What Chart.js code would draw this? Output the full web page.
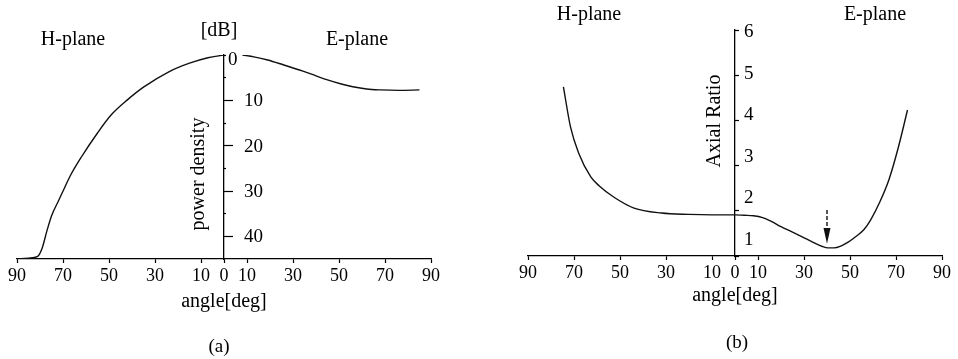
<!DOCTYPE html>
<html>
<head>
<meta charset="utf-8">
<script src="https://cdn.jsdelivr.net/npm/chart.js@4.4.1/dist/chart.umd.min.js"></script>
<style>
  html, body { margin: 0; padding: 0; background: #fff; }
  #wrap { position: relative; width: 958px; height: 359px; }
  .pane { position: absolute; top: 0; width: 479px; height: 359px; }
  #paneA { left: 0; }
  #paneB { left: 479px; }
</style>
</head>
<body>
<div id="wrap">
  <div class="pane" id="paneA"><canvas id="chartA" width="479" height="359"></canvas></div>
  <div class="pane" id="paneB"><canvas id="chartB" width="479" height="359"></canvas></div>
</div>
<script>
// angle ticks shared by both panels; H-plane side is drawn as negative angles
const angleTicks = [-90, -70, -50, -30, -10, 0, 10, 30, 50, 70, 90];

// (a) power density [dB] below peak
const hAngles = [-90, -85, -81, -79, -77, -75, -72, -69.5, -67, -62, -55, -49, -42, -35, -24, -15, -7, 0];
const hPower  = [45, 44.8, 44.4, 42.5, 38.8, 35.5, 32.2, 29.5, 26.8, 22.5, 17.2, 13.2, 9.9, 7.1, 3.7, 1.8, 0.6, 0];
const eAngles = [8, 13, 19, 26, 34, 40, 45, 51, 56, 62, 68, 76, 85];
const ePower  = [0, 0.4, 1.1, 2.2, 3.5, 4.6, 5.5, 6.4, 7.0, 7.5, 7.7, 7.8, 7.7];
const dbTicks  = [0, 5, 10, 15, 20, 25, 30, 35, 40];
const dbLabels = [0, 10, 20, 30, 40];

// (b) axial ratio
const arAngles = [-74.6, -71.5, -68, -62.7, -59, -52.6, -43.9, -32, -20, -10, 0, 4, 8, 12, 16, 20, 25, 29, 34, 38, 40.5, 43, 46, 49, 52, 56, 59, 63, 67, 71, 75];
const arValues = [4.74, 3.85, 3.28, 2.75, 2.55, 2.3, 2.06, 1.95, 1.92, 1.91, 1.91, 1.9, 1.89, 1.85, 1.76, 1.65, 1.53, 1.43, 1.3, 1.21, 1.18, 1.18, 1.22, 1.3, 1.41, 1.58, 1.8, 2.2, 2.7, 3.4, 4.23];
const arTicks = [1, 2, 3, 4, 5, 6];
// arrow marking the minimum
const arrowAngle = 40;
const arrowFrom = 2.02, arrowHead = 1.62, arrowTo = 1.27;

const SERIF = '"Liberation Serif", "DejaVu Serif", serif';
const INK = '#111';

function pts(xs, ys){ return xs.map((x, i) => ({x: x, y: ys[i]})); }

function curve(data){
  return {
    data: data, borderColor: INK, borderWidth: 1.4, pointRadius: 0,
    fill: false, cubicInterpolationMode: 'monotone'
  };
}

function angleAxis(h){
  return {
    type: 'linear', position: 'bottom', min: -90, max: 90,
    afterBuildTicks: s => { s.ticks = angleTicks.map(v => ({value: v})); },
    afterFit: s => { s.height = h; },
    ticks: { autoSkip: false, maxRotation: 0, padding: 2, color: '#000',
             font: {family: SERIF, size: 18}, callback: v => Math.abs(v) },
    grid: { drawOnChartArea: false, drawTicks: true, tickLength: 4, tickColor: '#000', tickWidth: 1.2 },
    border: { color: '#000', width: 1.3 },
    title: { display: true, text: 'angle[deg]', color: '#000',
             font: {family: SERIF, size: 20}, padding: {top: 0, bottom: 0} }
  };
}

// free text on the canvas
function drawText(ctx, t, x, y, size, rot){
  ctx.save();
  ctx.font = size + 'px ' + SERIF;
  ctx.fillStyle = '#000';
  ctx.textAlign = 'center';
  ctx.textBaseline = 'middle';
  ctx.translate(x, y);
  if(rot) ctx.rotate(rot);
  ctx.fillText(t, 0, 0);
  ctx.restore();
}

const panelA = {
  id: 'panelA',
  afterDraw(chart){
    const ctx = chart.ctx, xs = chart.scales.x, ys = chart.scales.y;
    const x0 = xs.getPixelForValue(0);
    ctx.save();
    ctx.font = '19px ' + SERIF;
    ctx.fillStyle = '#000';
    ctx.textAlign = 'left';
    ctx.textBaseline = 'middle';
    dbLabels.forEach(v => {
      // 0 sits right against the axis, the others after the long tick
      const dx = v === 0 ? 4 : 20, dy = v === 0 ? 5 : 1;
      ctx.fillText(String(v), x0 + dx, ys.getPixelForValue(v) + dy);
    });
    ctx.restore();
    drawText(ctx, 'H-plane', 73, 40, 20);
    drawText(ctx, 'E-plane', 357, 40, 20);
    drawText(ctx, '[dB]', 219, 31, 20);
    drawText(ctx, 'power density', 199, 174, 20, -Math.PI / 2);
    drawText(ctx, '(a)', 219, 347, 19);
  }
};

const panelB = {
  id: 'panelB',
  afterDraw(chart){
    const ctx = chart.ctx, xs = chart.scales.x, ys = chart.scales.y;
    const x0 = xs.getPixelForValue(0);
    ctx.save();
    ctx.font = '19px ' + SERIF;
    ctx.fillStyle = '#000';
    ctx.textAlign = 'left';
    ctx.textBaseline = 'middle';
    // printed labels creep upward towards the bottom of the axis
    arTicks.forEach(v => ctx.fillText(String(v), x0 + 9, ys.getPixelForValue(v) + 2 - (6 - v) * 3.6));

    // dashed arrow pointing at the minimum
    const ax = xs.getPixelForValue(arrowAngle);
    const yTop = ys.getPixelForValue(arrowFrom), yHead = ys.getPixelForValue(arrowHead), yTip = ys.getPixelForValue(arrowTo);
    ctx.strokeStyle = INK;
    ctx.lineWidth = 1.4;
    ctx.setLineDash([4, 2]);
    ctx.beginPath(); ctx.moveTo(ax, yTop); ctx.lineTo(ax, yHead); ctx.stroke();
    ctx.setLineDash([]);
    ctx.fillStyle = INK;
    ctx.beginPath(); ctx.moveTo(ax - 3.5, yHead); ctx.lineTo(ax + 3.5, yHead); ctx.lineTo(ax, yTip); ctx.closePath(); ctx.fill();
    ctx.restore();

    drawText(ctx, 'H-plane', 110, 15, 20);
    drawText(ctx, 'E-plane', 396, 15, 20);
    drawText(ctx, 'Axial Ratio', 236, 121, 20, -Math.PI / 2);
    drawText(ctx, '(b)', 258, 343, 19);
  }
};

const common = {
  responsive: false, animation: false,
  plugins: { legend: { display: false }, tooltip: { enabled: false } }
};

new Chart(document.getElementById('chartA'), {
  type: 'line',
  data: { datasets: [curve(pts(hAngles, hPower)), curve(pts(eAngles, ePower))] },
  options: Object.assign({}, common, {
    layout: { padding: { left: 17, top: 55, right: 48, bottom: 45 } },
    scales: {
      x: angleAxis(55),
      y: {
        type: 'linear', reverse: true, min: 0, max: 45, position: { x: 0 },
        afterBuildTicks: s => { s.ticks = dbTicks.map(v => ({value: v})); },
        afterFit: s => { s.width = 0; },
        ticks: { display: false },
        grid: {
          drawOnChartArea: false, drawTicks: true, tickLength: -10, tickColor: '#000', tickWidth: 1.2,
          // short marks at 0 and every 5, long ones at every 10
          tickBorderDash: c => (c.tick && c.tick.value > 0 && c.tick.value % 10 === 0) ? [] : [3, 100]
        },
        border: { color: '#000', width: 1.3 }
      }
    }
  }),
  plugins: [panelA]
});

new Chart(document.getElementById('chartB'), {
  type: 'line',
  data: { datasets: [curve(pts(arAngles, arValues))] },
  options: Object.assign({}, common, {
    layout: { padding: { left: 49, top: 30, right: 16, bottom: 51 } },
    scales: {
      x: angleAxis(52),
      y: {
        type: 'linear', min: 1, max: 6, position: { x: 0 },
        afterBuildTicks: s => { s.ticks = arTicks.map(v => ({value: v})); },
        afterFit: s => { s.width = 0; },
        ticks: { display: false },
        grid: { drawOnChartArea: false, drawTicks: true, tickLength: -5, tickColor: '#000', tickWidth: 1.2 },
        border: { color: '#000', width: 1.3 }
      }
    }
  }),
  plugins: [panelB]
});
</script>
</body>
</html>
